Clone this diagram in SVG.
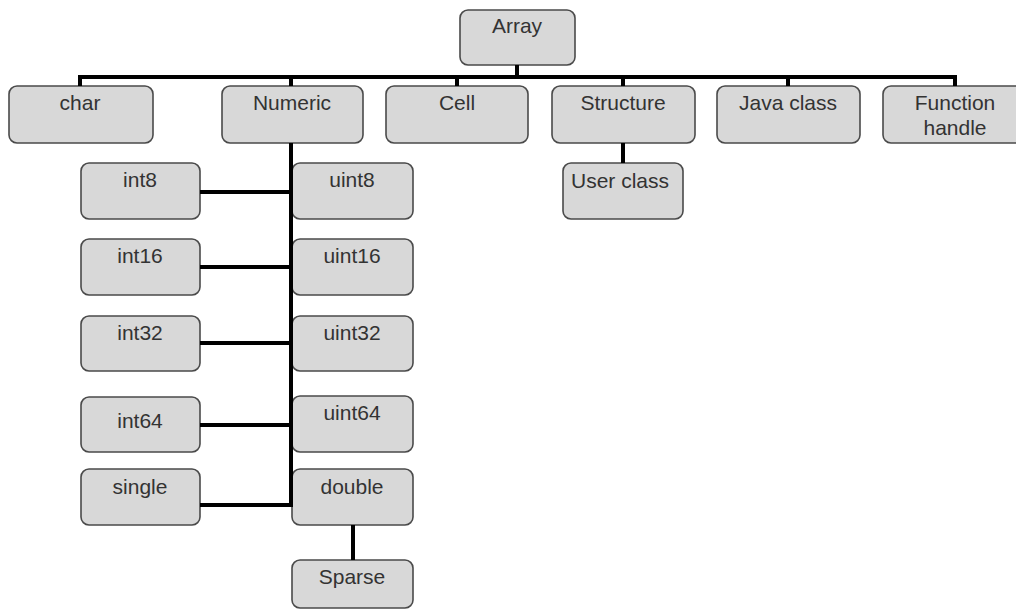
<svg xmlns="http://www.w3.org/2000/svg" width="1016" height="612" viewBox="0 0 1016 612">
<style>
.box{fill:#d8d8d8;stroke:#4a4a4a;stroke-width:1.6}
.t{font-family:"Liberation Sans",Arial,sans-serif;font-size:21px;fill:#333;text-anchor:middle}
.c{stroke:#000;stroke-width:4;fill:none}
</style>
<rect width="1016" height="612" fill="#fff"/>
<g id="array"><rect class="box" x="460" y="10" width="115" height="55" rx="8"/><text class="t" x="517" y="33">Array</text></g>
<g id="char"><rect class="box" x="9" y="86" width="144" height="57" rx="8"/><text class="t" x="80" y="110">char</text></g>
<g id="numeric"><rect class="box" x="222" y="86" width="141" height="57" rx="8"/><text class="t" x="292" y="110">Numeric</text></g>
<g id="cell"><rect class="box" x="386" y="86" width="142" height="57" rx="8"/><text class="t" x="457" y="110">Cell</text></g>
<g id="structure"><rect class="box" x="552" y="86" width="143" height="57" rx="8"/><text class="t" x="623" y="110">Structure</text></g>
<g id="javaclass"><rect class="box" x="717" y="86" width="143" height="57" rx="8"/><text class="t" x="788" y="110">Java class</text></g>
<g id="functionhandle"><rect class="box" x="883" y="86" width="140" height="57" rx="8"/><text class="t" x="955" y="110">Function</text><text class="t" x="955" y="135">handle</text></g>
<g id="userclass"><rect class="box" x="563" y="163" width="120" height="56" rx="8"/><text class="t" x="620" y="188">User class</text></g>
<g id="int8"><rect class="box" x="81" y="163" width="119" height="56" rx="8"/><text class="t" x="140" y="187">int8</text></g>
<g id="int16"><rect class="box" x="81" y="239" width="119" height="56" rx="8"/><text class="t" x="140" y="263">int16</text></g>
<g id="int32"><rect class="box" x="81" y="316" width="119" height="55" rx="8"/><text class="t" x="140" y="340">int32</text></g>
<g id="int64"><rect class="box" x="81" y="397" width="119" height="55" rx="8"/><text class="t" x="140" y="428">int64</text></g>
<g id="single"><rect class="box" x="81" y="469" width="119" height="56" rx="8"/><text class="t" x="140" y="494">single</text></g>
<g id="uint8"><rect class="box" x="292" y="163" width="121" height="56" rx="8"/><text class="t" x="352" y="187">uint8</text></g>
<g id="uint16"><rect class="box" x="292" y="239" width="121" height="56" rx="8"/><text class="t" x="352" y="263">uint16</text></g>
<g id="uint32"><rect class="box" x="292" y="316" width="121" height="55" rx="8"/><text class="t" x="352" y="340">uint32</text></g>
<g id="uint64"><rect class="box" x="292" y="396" width="121" height="56" rx="8"/><text class="t" x="352" y="420">uint64</text></g>
<g id="double"><rect class="box" x="292" y="469" width="121" height="56" rx="8"/><text class="t" x="352" y="494">double</text></g>
<g id="sparse"><rect class="box" x="292" y="560" width="121" height="48" rx="8"/><text class="t" x="352" y="584">Sparse</text></g>
<g id="connectors">
<path class="c" d="M517 65V77M80 77H955M80 75V86M291 75V86M457 75V86M623 75V86M788 75V86M955 75V86"/>
<path class="c" d="M623 143V163"/>
<path class="c" d="M291 143V507M200 192H291M200 267H291M200 343H291M200 425H291M200 505H291"/>
<path class="c" d="M353 525V560"/>
</g>
</svg>
